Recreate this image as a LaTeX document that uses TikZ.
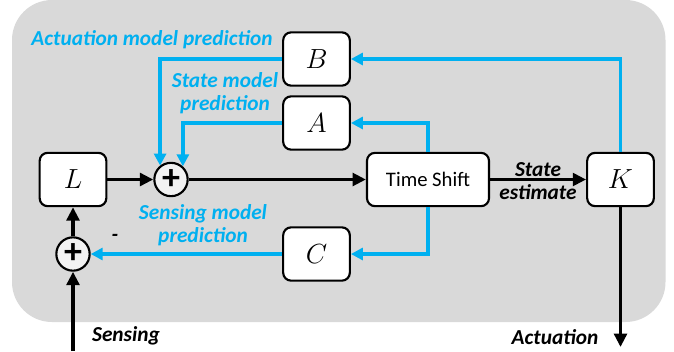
\documentclass[tikz,border=0pt]{standalone}
\usepackage{amsmath,amssymb}
\usepackage{xcolor}
\usepackage{fontspec}
\setmainfont{Carlito}
\usepackage{tikz}
\usetikzlibrary{arrows.meta}

\definecolor{skyblue}{RGB}{0,176,240}
\definecolor{bggray}{RGB}{217,217,217}
\definecolor{sumgray}{RGB}{242,242,242}

\begin{document}
\begin{tikzpicture}[x=0.75pt,y=0.75pt,yscale=-1,xscale=1,
  blk/.style={draw, line width=1.6pt, fill=white, rounded corners=6pt, minimum width=50pt, minimum height=40pt, inner sep=0pt, font=\fontsize{22}{24}\selectfont},
  sumnode/.style={draw, circle, line width=1.6pt, fill=sumgray, minimum size=25pt, inner sep=0pt, font=\fontsize{27}{27}\selectfont\bfseries},
  bline/.style={line width=2.7pt, -{Triangle[length=10pt,width=9.5pt]}},
  cline/.style={skyblue, line width=2.5pt, -{Triangle[length=9pt,width=9pt]}},
  lbl/.style={font=\fontsize{16}{17.5}\selectfont\bfseries\itshape, inner sep=0pt, align=center}]
\useasboundingbox (0,0) rectangle (674,351);
% background
\fill [bggray, rounded corners=30pt] (12,0) rectangle (665.5,322);

% Blocks
\node [blk] (B) at (316.5,59) {$B$};
\node [blk] (A) at (316.5,123) {$A$};
\node [blk] (C) at (316.5,254) {$C$};
\node [blk] (L) at (73,179.5) {$L$};
\node [blk, minimum width=91.5pt, font=\fontsize{15.5}{17}\selectfont] (shift) at (428,179.5) {Time Shift};
\node [blk] (K) at (620.5,179.5) {$K$};
\node [sumnode] (sumU) at (171,179.5) {+};
\node [sumnode] (sumD) at (73,254) {+};
\coordinate (sensin) at (73,351);
\coordinate (actout) at (620.5,347);

% Main path
\draw [bline] (L) -- (sumU);
\draw [bline] (sumU) -- (shift);
\draw [bline] (shift) -- (K);
\draw [bline] (K) -- (actout);
\draw [bline] (sensin) -- (sumD);
\draw [bline] (sumD) -- (L);

% Model predictions
\draw [cline] (K.north) |- (B.east);
\draw [cline] (shift.north) |- (A.east);
\draw [cline] (shift.south) |- (C.east);
\draw [cline] (B.west) -| (sumU.128);
\draw [cline] (A.west) -| (sumU.48);
\draw [cline] (C.west) -- (sumD.east);

% Text Node
\node [lbl, skyblue] (actpred) at (152,40) {Actuation model prediction};
% Text Node
\node [lbl, skyblue] (statepred) at (225,93) {State model\\prediction};
% Text Node
\node [lbl, skyblue] (senspred) at (203,225) {Sensing model\\prediction};
% Text Node
\node [lbl] (minus) at (115,238) {-};
% Text Node
\node [lbl] (estimate) at (538,181) {State\\estimate};
% Text Node
\node [lbl] (sensing) at (126,336) {Sensing};
% Text Node
\node [lbl] (actuation) at (555,337) {Actuation};
\end{tikzpicture}
\end{document}
